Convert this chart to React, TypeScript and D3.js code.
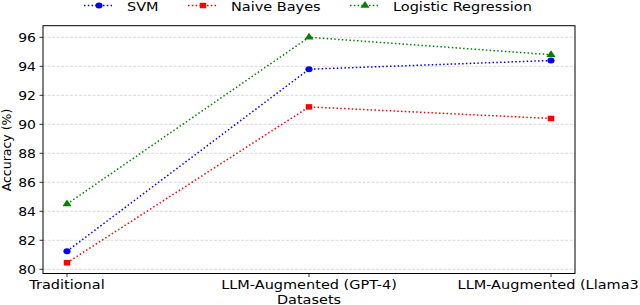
import React, { useEffect, useRef } from 'react';
import * as d3 from 'd3';

// data
const categories = ['Traditional', 'LLM-Augmented (GPT-4)', 'LLM-Augmented (Llama3)'];
const svmScores = [81.25, 93.8, 94.4];
const nbScores = [80.45, 91.2, 90.4];
const lrScores = [84.5, 96.0, 94.8];
const yTicks = [80, 82, 84, 86, 88, 90, 92, 94, 96];
const seriesNames = ['SVM', 'Naive Bayes', 'Logistic Regression'];
const seriesColors = ['#0000ff', '#ff0000', '#008000'];
const seriesMarkers = ['circle', 'square', 'triangle'];

const FONT = '"DejaVu Sans", sans-serif';
const SQ = 0.85; // picture is squashed vertically

export default function App() {
    const ref = useRef<SVGSVGElement | null>(null);

    useEffect(() => {
        if (!ref.current) return;
        const svg = d3.select(ref.current);
        svg.selectAll('*').remove();

        const frame = { left: 43, right: 575, top: 25.7, bottom: 273.5 };
        const x = d3.scalePoint<string>().domain(categories).range([67, 551]);
        const y = d3.scaleLinear().domain([79.71, 96.8]).range([frame.bottom, frame.top]);

        const allSeries = [svmScores, nbScores, lrScores];

        // grid
        svg.append('g').selectAll('line').data(yTicks).enter().append('line')
            .attr('x1', frame.left).attr('x2', frame.right)
            .attr('y1', d => y(d)).attr('y2', d => y(d))
            .attr('stroke', '#cfcfcf').attr('stroke-width', 0.8)
            .attr('stroke-dasharray', '3,1.5');

        const markerPath = (kind: string) => {
            if (kind === 'circle') return d3.symbol(d3.symbolCircle, 40)();
            if (kind === 'square') return d3.symbol(d3.symbolSquare, 42)();
            return d3.symbol(d3.symbolTriangle, 36)();
        };

        // lines + markers
        allSeries.forEach((vals, si) => {
            const line = d3.line<number>()
                .x((_, i) => x(categories[i]) as number)
                .y(d => y(d));
            svg.append('path')
                .attr('d', line(vals))
                .attr('fill', 'none')
                .attr('stroke', seriesColors[si])
                .attr('stroke-width', 1.5)
                .attr('stroke-dasharray', '1.5,2.3');
            svg.append('g').selectAll('path').data(vals).enter().append('path')
                .attr('d', markerPath(seriesMarkers[si]))
                .attr('transform', (d, i) => `translate(${x(categories[i])},${y(d)}) scale(1,${SQ})`)
                .attr('fill', seriesColors[si]);
        });

        // frame
        svg.append('rect')
            .attr('x', frame.left).attr('y', frame.top)
            .attr('width', frame.right - frame.left).attr('height', frame.bottom - frame.top)
            .attr('fill', 'none').attr('stroke', '#000').attr('stroke-width', 1);

        // y ticks
        const yg = svg.append('g');
        yTicks.forEach(t => {
            yg.append('line').attr('x1', frame.left - 3.5).attr('x2', frame.left)
                .attr('y1', y(t)).attr('y2', y(t)).attr('stroke', '#000').attr('stroke-width', 0.8);
            yg.append('text')
                .attr('transform', `translate(36,${y(t)}) scale(1,${SQ})`)
                .attr('dy', '0.36em')
                .attr('text-anchor', 'end')
                .style('font-family', FONT).style('font-size', '14px')
                .text(t);
        });

        // x ticks
        const xg = svg.append('g');
        categories.forEach(c => {
            const px = x(c) as number;
            xg.append('line').attr('x1', px).attr('x2', px)
                .attr('y1', frame.bottom).attr('y2', frame.bottom + 3.5)
                .attr('stroke', '#000').attr('stroke-width', 0.8);
            xg.append('text')
                .attr('transform', `translate(${px},289) scale(1,${SQ})`)
                .attr('text-anchor', 'middle')
                .style('font-family', FONT).style('font-size', '14.5px')
                .text(c);
        });

        // axis labels
        svg.append('text')
            .attr('transform', `translate(309,303.5) scale(1,${SQ})`)
            .attr('text-anchor', 'middle')
            .style('font-family', FONT).style('font-size', '14.5px')
            .text('Datasets');
        svg.append('text')
            .attr('transform', 'translate(10.5,150) rotate(-90)')
            .attr('text-anchor', 'middle')
            .style('font-family', FONT).style('font-size', '12.5px')
            .text('Accuracy (%)');

        // legend
        const legendX = [84, 188, 350];
        const lg = svg.append('g');
        seriesNames.forEach((name, si) => {
            const lx = legendX[si];
            lg.append('line').attr('x1', lx).attr('x2', lx + 28)
                .attr('y1', 5.5).attr('y2', 5.5)
                .attr('stroke', seriesColors[si]).attr('stroke-width', 1.5)
                .attr('stroke-dasharray', '1.5,2.3');
            lg.append('path')
                .attr('d', markerPath(seriesMarkers[si]))
                .attr('transform', `translate(${lx + 15},5.5) scale(1,${SQ})`)
                .attr('fill', seriesColors[si]);
            lg.append('text')
                .attr('transform', `translate(${lx + 43},10.5) scale(1,${SQ})`)
                .style('font-family', FONT).style('font-size', '14.5px')
                .text(name);
        });
    }, []);

    return (
        <svg ref={ref} width={640} height={305}
            style={{ position: 'absolute', left: 0, top: 0, background: '#fff' }} />
    );
}
